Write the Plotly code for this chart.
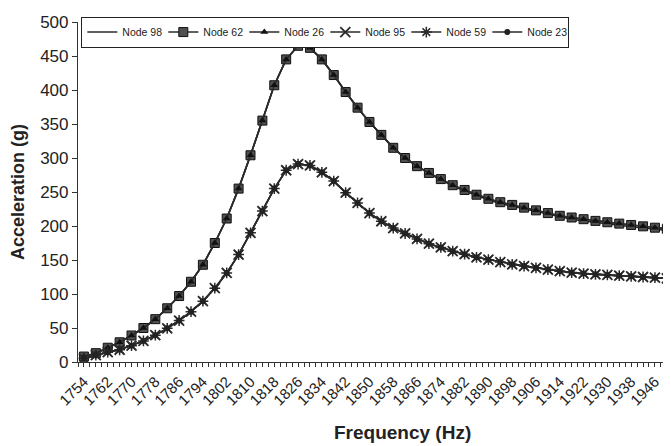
import plotly.graph_objects as go

freq = [1754, 1758, 1762, 1766, 1770, 1774, 1778, 1782, 1786, 1790,
        1794, 1798, 1802, 1806, 1810, 1814, 1818, 1822, 1826, 1830,
        1834, 1838, 1842, 1846, 1850, 1854, 1858, 1862, 1866, 1870,
        1874, 1878, 1882, 1886, 1890, 1894, 1898, 1902, 1906, 1910,
        1914, 1918, 1922, 1926, 1930, 1934, 1938, 1942, 1946, 1950]

node_62 = [8, 13, 21, 29, 39, 50, 63, 79, 97, 118,
           143, 175, 211, 255, 304, 355, 407, 445, 465, 462,
           445, 422, 397, 374, 353, 334, 315, 300, 288, 278,
           269, 260, 253, 246, 240, 235, 231, 227, 223, 219,
           215, 212.5, 210, 207.5, 205.5, 203.5, 201.5, 199.5, 197.5, 196]
node_26 = list(node_62)
node_98 = [8, 13, 21, 29, 39, 50, 63, 79, 97, 118,
           143, 175, 211, 255, 304, 355, 407, 445, 465, 462,
           445, 422, 397, 374, 353, 334, 315, 300, 288, 277,
           268, 259, 251.5, 244.5, 238.5, 233, 229, 225, 221, 217,
           213, 210, 207.5, 205, 203, 201, 199, 197, 195, 193.5]

node_95 = [5, 10, 14.5, 18, 24, 31, 39.5, 49.5, 61, 74,
           89.5, 108.5, 131, 158, 190, 222, 255, 282, 291, 289,
           279, 266, 249, 234, 219, 207, 197, 189, 181, 174,
           168.5, 163, 158.5, 154, 150.5, 147, 143.5, 141, 138.5, 136,
           133.5, 131.5, 130, 129, 128, 127, 126, 125, 124, 123]
node_59 = list(node_95)
node_23 = list(node_95)

x_ticks = [1754, 1762, 1770, 1778, 1786, 1794, 1802, 1810, 1818, 1826,
           1834, 1842, 1850, 1858, 1866, 1874, 1882, 1890, 1898, 1906,
           1914, 1922, 1930, 1938, 1946]
y_ticks = [0, 50, 100, 150, 200, 250, 300, 350, 400, 450, 500]

LINE = "#2b2b2b"
FONT = "Liberation Sans, Arial, sans-serif"

fig = go.Figure()
fig.add_trace(go.Scatter(x=freq, y=node_98, name="Node 98", mode="lines",
                         line=dict(color=LINE, width=1.6)))
fig.add_trace(go.Scatter(x=freq, y=node_62, name="Node 62", mode="lines+markers",
                         line=dict(color=LINE, width=1.6),
                         marker=dict(symbol="square", size=9, color="#505050",
                                     line=dict(color="#111111", width=1))))
fig.add_trace(go.Scatter(x=freq, y=node_26, name="Node 26", mode="lines+markers",
                         line=dict(color=LINE, width=1.6),
                         marker=dict(symbol="triangle-up", size=7, color="#111111")))
fig.add_trace(go.Scatter(x=freq, y=node_95, name="Node 95", mode="lines+markers",
                         line=dict(color=LINE, width=1.6),
                         marker=dict(symbol="x-thin-open", size=10,
                                     line=dict(color="#222222", width=1.8))))
fig.add_trace(go.Scatter(x=freq, y=node_59, name="Node 59", mode="lines+markers",
                         line=dict(color=LINE, width=1.6),
                         marker=dict(symbol="asterisk-open", size=9,
                                     line=dict(color="#333333", width=1.5))))
fig.add_trace(go.Scatter(x=freq, y=node_23, name="Node 23", mode="lines+markers",
                         line=dict(color=LINE, width=1.6),
                         marker=dict(symbol="circle", size=6, color="#222222")))

fig.update_layout(
    width=671, height=446,
    margin=dict(l=70, r=8, t=5, b=92),
    paper_bgcolor="white", plot_bgcolor="white",
    font=dict(family=FONT, color="#222222", size=15),
    showlegend=True,
    legend=dict(orientation="h", x=0.0056, y=1.016, xanchor="left", yanchor="top",
                bordercolor="#222222", borderwidth=1, bgcolor="white",
                font=dict(size=10.5, family=FONT, color="#222222"),
                entrywidth=36, entrywidthmode="pixels",
                itemwidth=30, tracegroupgap=0),
    xaxis=dict(range=[1752, 1951.4], tickmode="array", tickvals=x_ticks,
               ticktext=[str(t) for t in x_ticks], tickangle=-45,
               ticks="outside", ticklen=4, tickcolor="#333333",
               showline=True, linecolor="#333333", linewidth=1.2,
               showgrid=False, zeroline=False, ticklabeloverflow="allow",
               tickfont=dict(size=15, family=FONT, color="#222222"),
               minor=dict(dtick=2, tick0=1754, ticks="outside", ticklen=4,
                          tickcolor="#333333", showgrid=False)),
    yaxis=dict(range=[0, 500], tickmode="array", tickvals=y_ticks,
               ticks="outside", ticklen=5, tickcolor="#333333",
               showline=True, linecolor="#333333", linewidth=1.2,
               showgrid=False, zeroline=False, ticklabeloverflow="allow",
               tickfont=dict(size=17, family=FONT, color="#222222"),
               title=dict(text="<b>Acceleration (g)</b>", standoff=10,
                          font=dict(size=18, family=FONT, color="#222222"))),
)

fig.add_annotation(text="<b>Frequency (Hz)</b>", xref="paper", yref="paper",
                   x=0.547, y=0, yshift=-70, xanchor="center", yanchor="middle",
                   showarrow=False,
                   font=dict(size=19, family=FONT, color="#222222"))

fig.write_html("out.html")
